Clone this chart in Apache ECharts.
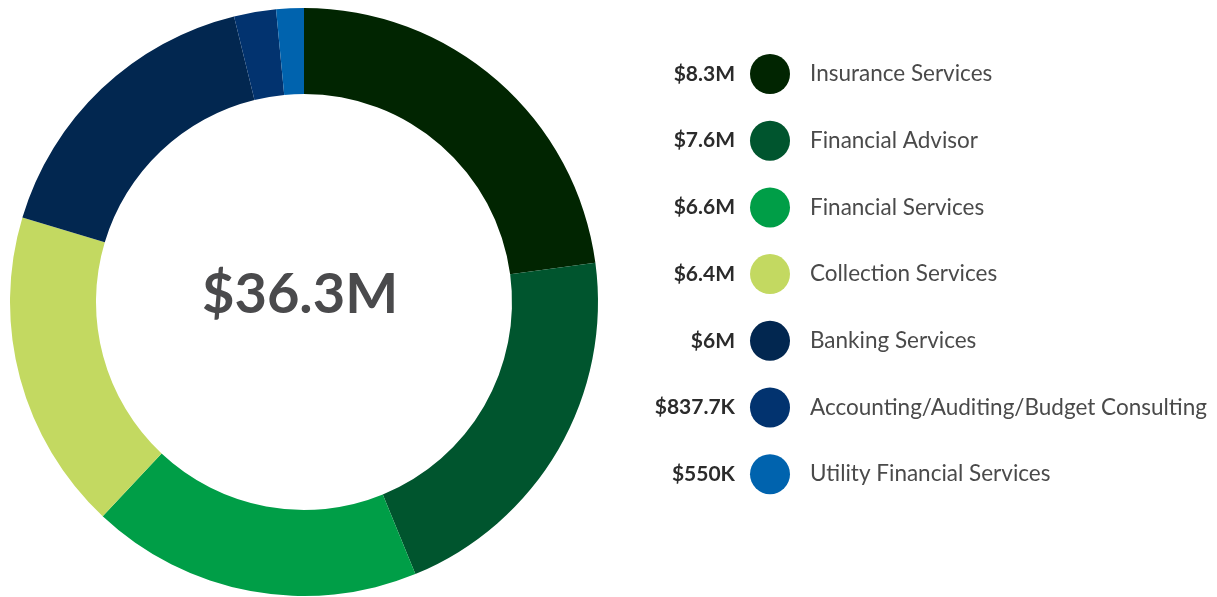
<!DOCTYPE html>
<html><head><meta charset="utf-8">
<script src="https://cdn.jsdelivr.net/npm/echarts@6/dist/echarts.min.js"></script>
<style>html,body{margin:0;padding:0;background:#fff}#c{width:1217px;height:597px}</style>
</head><body><div id="c"></div>
<script>
const categories = ["Insurance Services","Financial Advisor","Financial Services","Collection Services","Banking Services","Accounting/Auditing/Budget Consulting","Utility Financial Services"];
const values = [8.3, 7.6, 6.6, 6.4, 6, 0.8377, 0.55];
const valueLabels = ["$8.3M","$7.6M","$6.6M","$6.4M","$6M","$837.7K","$550K"];
const colors = ["#012501","#00552e","#009e47","#c3d961","#022750","#02336f","#0063ae"];
const totalLabel = "$36.3M";

const chart = echarts.init(document.getElementById('c'));
const rowTop = 74, rowStep = 66.7;
chart.setOption({
  animation:false,
  color: colors,
  legend: {
    orient:'vertical', left: 750, top: rowTop-20, padding:0,
    itemWidth:40, itemHeight:40, itemGap: rowStep-40, icon:'circle',
    textStyle:{fontFamily:'Lato', fontSize:22.5, color:'#4a4a4a', padding:[0,0,0,15]},
    selectedMode:false,
    data: categories
  },
  graphic: valueLabels.map((t,i)=>({
    type:'text', x: 735, y: rowTop + i*rowStep,
    style:{text:t, fontFamily:'Lato', fontWeight:'bold', fontSize:21, fill:'#2b2b2b', textAlign:'right', textVerticalAlign:'middle'}
  })).concat([{
    type:'text', x: 300, y: 295,
    style:{text: totalLabel, fontFamily:'Lato', fontWeight:'bold', fontSize:56, fill:'#4a4a4c', textAlign:'center', textVerticalAlign:'middle'}
  }]),
  series:[{
    type:'pie', center:[304,302], radius:[208,294], startAngle:90, clockwise:true,
    label:{show:false}, labelLine:{show:false}, silent:true,
    data: categories.map((n,i)=>({name:n, value:values[i]}))
  }]
});
</script></body></html>
